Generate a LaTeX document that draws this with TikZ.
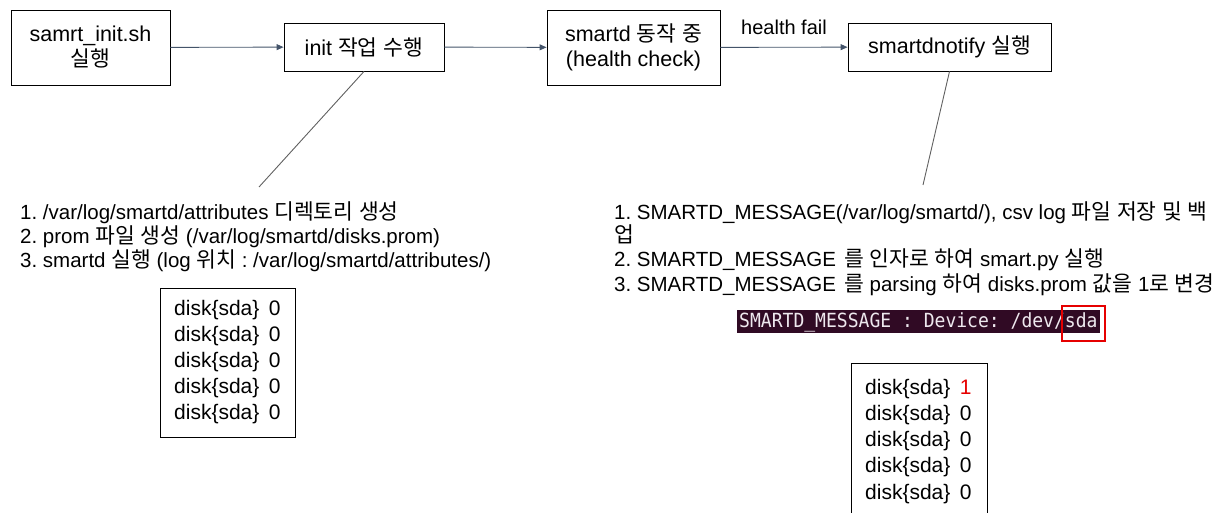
\documentclass[tikz,border=0pt]{standalone}
\usepackage{fontspec}
\setmainfont{Liberation Sans}
\newfontfamily\termfont{DejaVu Sans Mono}
\newfontfamily\krboxfont[Scale=1.0]{Noto Sans CJK KR}
\newfontfamily\krlistfont[Scale=1.05]{Noto Sans CJK KR}
\let\krcur\krboxfont
\newcommand{\kr}[1]{{\krcur #1}}
\usetikzlibrary{arrows.meta}
\frenchspacing
\definecolor{arrowgray}{RGB}{68,84,106}
\definecolor{linegray}{RGB}{96,96,96}
\definecolor{termbg}{RGB}{48,10,36}
\definecolor{termfg}{RGB}{238,232,238}
\definecolor{hlred}{RGB}{230,0,0}
\tikzset{
  stepbox/.style={draw=black, line width=0.9pt, inner sep=0pt, align=center,
    font=\fontsize{21.5}{25}\selectfont\let\krcur\krboxfont},
  flow/.style={draw=arrowgray, line width=0.9pt, -{Triangle[length=7pt,width=6pt]}},
  leader/.style={draw=linegray, line width=0.9pt},
  listline/.style={anchor=base west, inner sep=0pt,
    font=\fontsize{20.5}{24}\selectfont\let\krcur\krlistfont},
  diskline/.style={anchor=base west, inner sep=0pt, font=\fontsize{21}{26}\selectfont},
}
\newcommand{\disk}[1]{disk\{sda\}\hspace{0.45em}#1}
\newcommand{\gap}{\hspace{0.4em}}
\begin{document}
\begin{tikzpicture}[x=1pt,y=-1pt]
\useasboundingbox (0,0) rectangle (1216,513);

% main flow
\node[stepbox, minimum width=159pt, minimum height=75pt] (b1) at (90.5,47.5)
  {samrt\_init.sh\\\kr{실행}};
\node[stepbox, minimum width=160pt, minimum height=48pt] (b2) at (364,47)
  {init \kr{작업} \kr{수행}};
\node[stepbox, minimum width=173pt, minimum height=75pt] (b3) at (633.5,47.5)
  {smartd \kr{동작} \kr{중}\\(health check)};
\node[stepbox, minimum width=203pt, minimum height=48pt] (b4) at (949.5,47)
  {smartdnotify \kr{실행}};

\draw[flow] (b1) -- (b2);
\draw[flow] (b2) -- (b3);
\draw[flow] (b3) -- (b4) node[midway, above=9pt, font=\fontsize{20}{22}\selectfont] (hf) {health fail};

% leaders to the notes
\coordinate (n1) at (259,187);
\coordinate (n2) at (923,185);
\draw[leader] (b2.south) -- (n1);
\draw[leader] (b4.south) -- (n2);

% init notes
\node[listline] (l1) at (20,220) {1. /var/log/smartd/attributes \kr{디렉토리} \kr{생성}};
\node[listline] (l2) at (20,244) {2. prom \kr{파일} \kr{생성} (/var/log/smartd/disks.prom)};
\node[listline] (l3) at (20,268) {3. smartd \kr{실행} (log \kr{위치} : /var/log/smartd/attributes/)};

% prom file after init
\draw[line width=0.9pt] (160,288) rectangle (295,437);
\node[diskline] (d1) at (174,315) {\disk{0}};
\node[diskline] (d2) at (174,341) {\disk{0}};
\node[diskline] (d3) at (174,367) {\disk{0}};
\node[diskline] (d4) at (174,393) {\disk{0}};
\node[diskline] (d5) at (174,419) {\disk{0}};

% smartdnotify notes
\node[listline] (r1) at (614,220) {1. SMARTD\_MESSAGE(/var/log/smartd/), csv log \kr{파일} \kr{저장} \kr{및} \kr{백}};
\node[listline] (r1b) at (614,243) {\kr{업}};
\node[listline] (r2) at (614,267) {2. SMARTD\_MESSAGE\gap\kr{를} \kr{인자로} \kr{하여} smart.py \kr{실행}};
\node[listline] (r3) at (614,291) {3. SMARTD\_MESSAGE\gap\kr{를} parsing \kr{하여} disks.prom \kr{값을} 1\kr{로} \kr{변경}};

% terminal output
\fill[termbg] (737,310) rectangle (1100,333);
\node[anchor=base west, inner sep=0pt, text=termfg, font=\termfont\fontsize{19.5}{22}\selectfont] (term) at (739,327.5)
  {\scalebox{0.925}[1]{SMARTD\_MESSAGE : Device: /dev/sda}};
\draw[hlred, line width=2.5pt] (1062,306) rectangle (1105,341);

% prom file after smartdnotify (runs past the bottom edge)
\draw[line width=0.9pt] (851,513) -- (851,363) -- (987,363) -- (987,513);
\node[diskline] (e1) at (865,394) {disk\{sda\}\hspace{0.45em}\textcolor{hlred}{1}};
\node[diskline] (e2) at (865,420) {\disk{0}};
\node[diskline] (e3) at (865,446) {\disk{0}};
\node[diskline] (e4) at (865,472) {\disk{0}};
\node[diskline] (e5) at (865,499) {\disk{0}};
\end{tikzpicture}
\end{document}
